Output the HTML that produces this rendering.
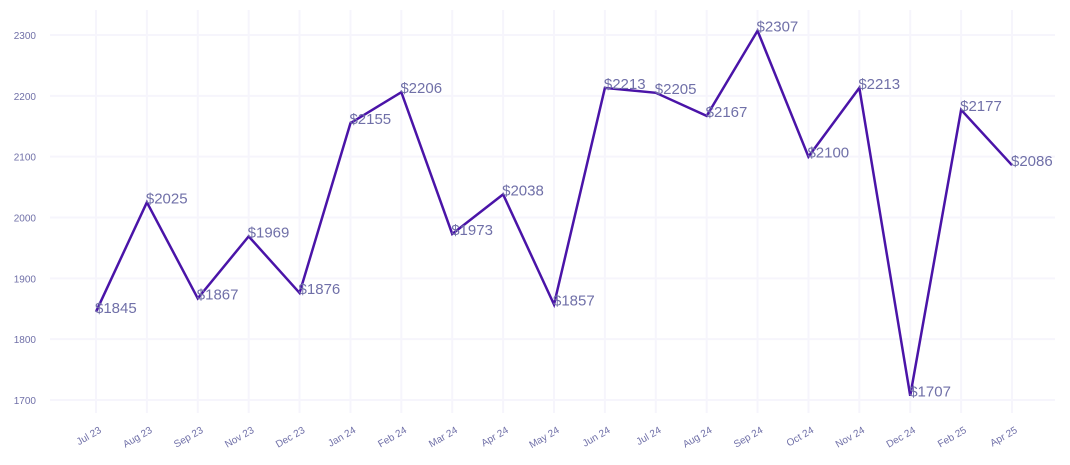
<!DOCTYPE html>
<html><head><meta charset="utf-8"><style>
body{margin:0;background:#fff;}
svg{display:block;font-family:"Liberation Sans",Arial,sans-serif;}
</style></head><body>
<svg id="chart" width="1070" height="465" viewBox="0 0 1070 465">
<g id="grid"></g>
<g id="yaxis"></g>
<g id="xaxis"></g>
<g id="series"></g>
</svg>
<script>
const categories=["Jul 23","Aug 23","Sep 23","Nov 23","Dec 23","Jan 24","Feb 24","Mar 24","Apr 24","May 24","Jun 24","Jul 24","Aug 24","Sep 24","Oct 24","Nov 24","Dec 24","Feb 25","Apr 25"];
const values=[1845,2025,1867,1969,1876,2155,2206,1973,2038,1857,2213,2205,2167,2307,2100,2213,1707,2177,2086];
const yTicks=[1700,1800,1900,2000,2100,2200,2300];
const NS="http://www.w3.org/2000/svg";
const x0=96,x1=1012,yTop=35,yBot=400,vMin=1700,vMax=2300;
const xs=i=>x0+(x1-x0)*i/(categories.length-1);
const ys=v=>yBot-(v-vMin)/(vMax-vMin)*(yBot-yTop);
function mk(t,a,p){const e=document.createElementNS(NS,t);for(const k in a)e.setAttribute(k,a[k]);p.appendChild(e);return e;}
const grid=document.getElementById('grid'),ya=document.getElementById('yaxis'),xa=document.getElementById('xaxis'),se=document.getElementById('series');
yTicks.forEach(v=>{
 const l=mk('line',{x1:50,x2:1055,y1:ys(v),y2:ys(v),stroke:'#f6f5fc','stroke-width':2},grid);
 
 
 const t=mk('text',{x:36,y:ys(v)+4,'text-anchor':'end','font-size':10,fill:'#7070a8'},ya);
 t.textContent=v;
 
 
});
categories.forEach((c,i)=>{
 const l=mk('line',{x1:xs(i),x2:xs(i),y1:10,y2:413,stroke:'#f6f5fc','stroke-width':2},grid);
 
 
 const t=mk('text',{x:xs(i)+6,y:432,'text-anchor':'end','font-size':10,fill:'#7070a8',transform:`rotate(-30 ${xs(i)+6} 432)`},xa);
 t.textContent=c;
 
 
});
const p=mk('polyline',{points:values.map((v,i)=>xs(i)+','+ys(v)).join(' '),fill:'none',stroke:'#4a14a8','stroke-width':2.5,'stroke-linejoin':'miter'},se);


values.forEach((v,i)=>{
 const t=mk('text',{x:xs(i)-1,y:ys(v)+1,'font-size':15,fill:'#7070a8'},se);
 t.textContent='$'+v;
 
 
});
</script>
</body></html>
